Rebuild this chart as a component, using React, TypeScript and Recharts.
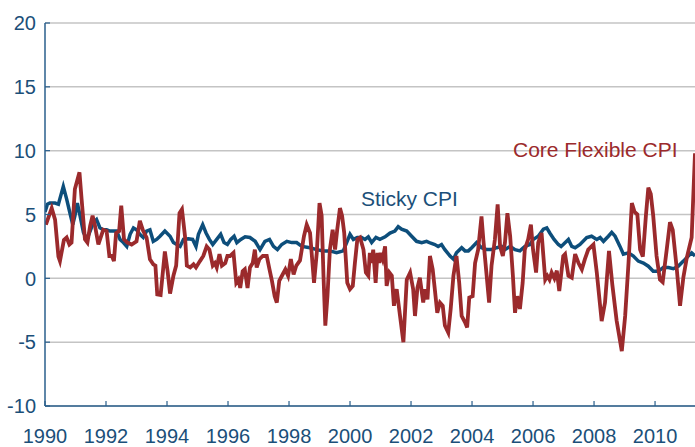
import React from "react";
import { LineChart, Line, XAxis, YAxis, CartesianGrid } from "recharts";

const flexYears = [
  1990.03, 1990.22, 1990.33, 1990.44, 1990.49, 1990.62, 1990.71, 1990.8, 1990.87, 1990.98,
  1991.13, 1991.2, 1991.31, 1991.39, 1991.48, 1991.56, 1991.64, 1991.75, 1991.84, 1991.91,
  1992.02, 1992.11, 1992.19, 1992.26, 1992.33, 1992.43, 1992.5, 1992.59, 1992.7, 1992.84,
  1993.0, 1993.11, 1993.22, 1993.33, 1993.44, 1993.55, 1993.62, 1993.68, 1993.79, 1993.93,
  1994.02, 1994.1, 1994.21, 1994.3, 1994.41, 1994.49, 1994.59, 1994.65, 1994.76, 1994.87,
  1994.95, 1995.08, 1995.19, 1995.3, 1995.39, 1995.5, 1995.57, 1995.63, 1995.72, 1995.8,
  1995.91, 1995.98, 1996.07, 1996.18, 1996.27, 1996.34, 1996.4, 1996.48, 1996.55, 1996.64,
  1996.72, 1996.81, 1996.88, 1996.94, 1997.03, 1997.14, 1997.27, 1997.36, 1997.44, 1997.53,
  1997.6, 1997.68, 1997.79, 1997.88, 1997.97, 1998.06, 1998.15, 1998.24, 1998.36, 1998.49,
  1998.58, 1998.69, 1998.82, 1998.91, 1999.0, 1999.07, 1999.13, 1999.19, 1999.26, 1999.34,
  1999.43, 1999.51, 1999.58, 1999.67, 1999.74, 1999.81, 1999.91, 2000.0, 2000.09, 2000.16,
  2000.24, 2000.33, 2000.44, 2000.52, 2000.6, 2000.65, 2000.71, 2000.76, 2000.84, 2000.9,
  2000.96, 2001.0, 2001.07, 2001.15, 2001.2, 2001.29, 2001.37, 2001.44, 2001.53, 2001.64,
  2001.75, 2001.86, 2001.97, 2002.07, 2002.13, 2002.21, 2002.29, 2002.4, 2002.46, 2002.54,
  2002.62, 2002.71, 2002.78, 2002.86, 2002.95, 2003.04, 2003.11, 2003.22, 2003.3, 2003.39,
  2003.49, 2003.58, 2003.66, 2003.77, 2003.84, 2003.91, 2004.02, 2004.1, 2004.2, 2004.31,
  2004.37, 2004.48, 2004.56, 2004.64, 2004.75, 2004.84, 2004.92, 2005.01, 2005.08, 2005.16,
  2005.25, 2005.34, 2005.41, 2005.48, 2005.57, 2005.66, 2005.73, 2005.84, 2005.93, 2006.0,
  2006.1, 2006.17, 2006.28, 2006.4, 2006.47, 2006.54, 2006.61, 2006.7, 2006.78, 2006.86,
  2006.99, 2007.05, 2007.16, 2007.27, 2007.38, 2007.49, 2007.6, 2007.7, 2007.81, 2007.98,
  2008.09, 2008.25, 2008.36, 2008.49, 2008.6, 2008.74, 2008.91, 2009.02, 2009.13, 2009.24,
  2009.33, 2009.42, 2009.51, 2009.6, 2009.7, 2009.78, 2009.86, 2009.94, 2010.05, 2010.16,
  2010.25, 2010.38, 2010.49, 2010.58, 2010.71, 2010.82, 2010.93, 2011.04, 2011.2, 2011.31,
];
const flexValues = [
  4.2, 5.5, 4.6, 1.7, 1.35, 3.0, 3.2, 2.65, 2.8, 7.0,
  8.3, 6.2, 3.05, 2.8, 4.1, 4.9, 4.1, 2.65, 3.3, 3.8,
  3.7, 1.75, 1.75, 1.35, 3.55, 3.7, 5.7, 3.05, 2.8, 2.65,
  2.9, 4.5, 3.7, 3.2, 1.5, 1.1, 1.0, -1.25, -1.3, 2.1,
  0.55, -1.2, 0.2, 1.0, 5.1, 5.4, 3.3, 1.0, 0.85, 1.1,
  0.85, 1.35, 1.75, 2.5, 2.25, 1.0, 1.2, 0.85, 1.9, 1.0,
  1.2, 1.75, 1.75, 2.0, -0.35, -0.1, -0.75, 0.55, 0.7, -0.75,
  0.85, 1.2, 2.25, 0.85, 1.5, 1.75, 1.75, 0.7, -0.2, -1.4,
  -1.9, -0.2, 0.3, 0.7, 0.2, 1.5, 0.3, 1.0, 1.4, 3.3,
  4.2, 3.55, -0.35, 2.0, 5.9, 4.9, 0.2, -3.7, -1.4, 2.25,
  3.8, 2.25, 3.8, 5.5, 4.9, 3.55, -0.35, -0.85, -0.6, 1.2,
  3.05, 3.2, 2.25, 0.45, 0.2, 2.0, 1.2, 2.25, -0.35, 2.0,
  1.2, 2.0, 1.5, 2.5, -0.6, 0.45, 0.2, -2.15, -0.85, -2.95,
  -5.0, -0.1, 0.45, -0.85, -2.95, -0.75, 0.05, -1.9, -0.85, -1.65,
  1.75, 0.7, -0.85, -2.7, -1.9, -2.15, -3.7, -4.25, -2.4, 0.2,
  1.75, -0.35, -2.95, -3.45, -3.85, -1.5, -1.4, 1.2, 2.25, 4.85,
  3.05, 0.2, -1.9, 1.0, 3.05, 5.8, 2.5, 1.75, 2.8, 5.1,
  3.3, 0.2, -2.7, -1.4, -2.4, -0.35, 2.25, 3.05, 4.2, 2.25,
  0.45, 2.8, 3.55, -0.1, 0.2, -0.1, 0.45, 0.0, 0.6, -1.0,
  1.75, 1.9, 0.2, 0.05, 1.9, 1.2, 0.7, 1.5, 2.25, 2.65,
  0.45, -3.35, -1.9, 2.15, -0.5, -3.3, -5.7, -2.95, 1.2, 5.9,
  5.2, 5.0, 2.25, 1.7, 4.9, 7.1, 6.6, 4.9, 1.75, -0.1,
  -0.3, 2.2, 4.4, 3.8, 0.8, -2.15, 0.1, 1.6, 3.2, 9.8,
];

const stickyYears = [
  1990.0, 1990.08, 1990.16, 1990.33, 1990.44, 1990.6, 1990.71, 1990.82, 1990.91, 1990.98,
  1991.06, 1991.15, 1991.26, 1991.37, 1991.48, 1991.58, 1991.69, 1991.8, 1991.91, 1992.02,
  1992.13, 1992.24, 1992.35, 1992.46, 1992.57, 1992.68, 1992.79, 1992.9, 1993.0, 1993.11,
  1993.22, 1993.33, 1993.44, 1993.55, 1993.66, 1993.77, 1993.93, 1994.1, 1994.21, 1994.32,
  1994.43, 1994.54, 1994.7, 1994.84, 1994.95, 1995.03, 1995.17, 1995.28, 1995.39, 1995.5,
  1995.63, 1995.76, 1995.87, 1995.98, 1996.09, 1996.2, 1996.29, 1996.42, 1996.56, 1996.72,
  1996.89, 1997.05, 1997.21, 1997.36, 1997.49, 1997.62, 1997.76, 1997.93, 1998.09, 1998.25,
  1998.42, 1998.69, 1998.91, 1999.13, 1999.34, 1999.56, 1999.78, 1999.89, 2000.0, 2000.11,
  2000.24, 2000.38, 2000.49, 2000.6, 2000.71, 2000.85, 2000.98, 2001.15, 2001.31, 2001.47,
  2001.58, 2001.69, 2001.86, 2002.02, 2002.18, 2002.35, 2002.51, 2002.65, 2002.78, 2002.89,
  2003.0, 2003.11, 2003.28, 2003.39, 2003.49, 2003.66, 2003.77, 2003.88, 2003.99, 2004.15,
  2004.31, 2004.48, 2004.64, 2004.81, 2004.97, 2005.08, 2005.25, 2005.41, 2005.57, 2005.73,
  2005.9, 2006.01, 2006.17, 2006.34, 2006.45, 2006.55, 2006.69, 2006.83, 2006.92, 2006.99,
  2007.16, 2007.27, 2007.38, 2007.54, 2007.76, 2007.92, 2008.09, 2008.2, 2008.31, 2008.47,
  2008.58, 2008.69, 2008.85, 2008.96, 2009.13, 2009.29, 2009.45, 2009.62, 2009.78, 2009.94,
  2010.11, 2010.27, 2010.44, 2010.6, 2010.76, 2010.93, 2011.09, 2011.2, 2011.31,
];
const stickyValues = [
  5.2, 5.8, 5.9, 5.9, 5.8, 7.2, 6.2, 5.1, 4.2, 4.9,
  5.9, 4.9, 3.6, 3.05, 3.7, 4.35, 4.6, 3.95, 3.8, 3.8,
  3.7, 3.7, 3.7, 3.05, 2.8, 2.5, 3.45, 3.95, 3.8, 3.45,
  3.2, 3.7, 3.8, 2.9, 3.05, 3.3, 3.7, 3.3, 2.8, 2.65,
  2.5, 3.05, 3.1, 3.05, 2.5, 3.45, 4.2, 3.55, 3.05, 2.65,
  3.05, 3.45, 2.8, 2.65, 3.05, 3.3, 2.8, 3.05, 3.25, 3.2,
  2.9, 2.25, 2.9, 3.05, 2.5, 2.25, 2.65, 2.9, 2.8, 2.8,
  2.5, 2.4, 2.25, 2.15, 2.15, 2.0, 2.15, 2.8, 3.45, 3.05,
  3.2, 3.2, 3.05, 3.25, 2.8, 3.2, 3.05, 3.25, 3.55, 3.7,
  4.05, 3.85, 3.7, 3.3, 2.9, 2.8, 2.9, 2.75, 2.65, 2.5,
  2.65, 2.25, 1.75, 1.5, 2.0, 2.4, 2.15, 2.15, 2.4, 2.8,
  2.4, 2.25, 2.25, 2.4, 2.5, 2.25, 2.5, 2.25, 2.15, 2.5,
  2.65, 3.05, 3.3, 3.85, 3.95, 3.55, 3.05, 2.65, 2.5, 2.65,
  3.05, 2.5, 2.4, 2.65, 3.2, 3.3, 3.05, 3.2, 2.9, 3.3,
  3.6, 3.3, 2.5, 1.9, 2.0, 1.75, 1.35, 1.2, 0.95, 0.55,
  0.55, 0.85, 0.85, 0.75, 0.95, 1.35, 1.75, 2.0, 1.75,
];

const xTicks = [1990, 1992, 1994, 1996, 1998, 2000, 2002, 2004, 2006, 2008, 2010];
const yTicks = [-10, -5, 0, 5, 10, 15, 20];
const labelSticky = "Sticky CPI";
const labelFlex = "Core Flexible CPI";

const flexData = flexYears.map((x, i) => ({ x, v: flexValues[i] }));
const stickyData = stickyYears.map((x, i) => ({ x, v: stickyValues[i] }));

const BLUE = "#0d4e7b";
const RED = "#9b2a2c";
const TEXT = "#1b4f79";
const AXIS = "#2a5f8c";
const FONT = "'Liberation Sans', Arial, sans-serif";

const XTick = (props: any) => {
  const { x, y, payload } = props;
  const axisY = y - 2;
  return (
    <g>
      <line x1={x} x2={x} y1={axisY - 5} y2={axisY} stroke={AXIS} strokeWidth={1.2} />
      <text x={x} y={axisY + 37} textAnchor="middle" fill={TEXT} fontSize={20} fontFamily={FONT}>
        {payload.value}
      </text>
    </g>
  );
};

const YTick = (props: any) => {
  const { x, y, payload } = props;
  const axisX = x + 9;
  return (
    <g>
      <line x1={axisX} x2={axisX + 5} y1={y} y2={y} stroke={AXIS} strokeWidth={1.2} />
      <text x={x} y={y} dy="0.36em" textAnchor="end" fill={TEXT} fontSize={20} fontFamily={FONT}>
        {payload.value}
      </text>
    </g>
  );
};

export default function App() {
  return (
    <div style={{ position: "absolute", left: 0, top: 0, width: 695, height: 447, background: "#fff" }}>
      <LineChart width={695} height={447} margin={{ top: 23, right: 0, bottom: 0, left: 0 }}>
        <CartesianGrid horizontal vertical={false} stroke="#c4c4c4" strokeWidth={1.5} />
        <XAxis
          type="number"
          dataKey="x"
          domain={[1990, 2011.31]}
          allowDataOverflow
          ticks={xTicks}
          height={41}
          tickSize={0}
          tickMargin={2}
          tick={XTick}
          axisLine={{ stroke: AXIS, strokeWidth: 1.5 }}
          tickLine={false}
          interval={0}
        />
        <YAxis
          type="number"
          domain={[-10, 20]}
          ticks={yTicks}
          width={45}
          tickSize={0}
          tickMargin={9}
          tick={YTick}
          axisLine={{ stroke: AXIS, strokeWidth: 1.5 }}
          tickLine={false}
          interval={0}
          allowDataOverflow
        />
        <Line
          data={stickyData}
          dataKey="v"
          type="linear"
          stroke={BLUE}
          strokeWidth={3.5}
          dot={false}
          activeDot={false}
          isAnimationActive={false}
        />
        <Line
          data={flexData}
          dataKey="v"
          type="linear"
          stroke={RED}
          strokeWidth={3.8}
          dot={false}
          activeDot={false}
          isAnimationActive={false}
        />
      </LineChart>
      <svg width={695} height={447} style={{ position: "absolute", left: 0, top: 0, pointerEvents: "none" }}>
        <text x={361} y={206} fill={TEXT} fontSize={21} fontFamily={FONT}>
          {labelSticky}
        </text>
        <text x={513} y={157} fill={RED} fontSize={21} fontFamily={FONT}>
          {labelFlex}
        </text>
      </svg>
    </div>
  );
}
